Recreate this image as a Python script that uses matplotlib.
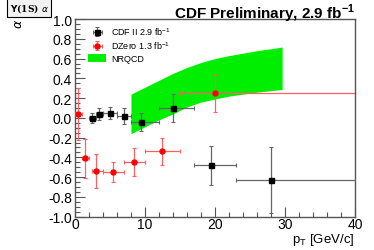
import numpy as np
import matplotlib
matplotlib.use("Agg")
import matplotlib.pyplot as plt
from matplotlib.ticker import MultipleLocator, FormatStrFormatter

plt.rcParams['font.family'] = ['Liberation Sans', 'DejaVu Sans']

# CDF II points
cdf_pt = [2.5, 3.5, 5.0, 7.0, 9.5, 14.0, 19.5, 28.0]
cdf_lo = [2.0, 3.0, 4.0, 6.0, 8.0, 12.0, 17.0, 23.0]
cdf_hi = [3.0, 4.0, 6.0, 8.0, 12.0, 17.0, 23.0, 40.0]
cdf_alpha = [0.00, 0.04, 0.05, 0.02, -0.04, 0.10, -0.48, -0.63]
cdf_err = [0.05, 0.06, 0.06, 0.08, 0.09, 0.145, 0.20, 0.33]

# DZero points
d0_pt = [0.5, 1.45, 2.95, 5.5, 8.5, 12.5, 20.0]
d0_lo = [0.0, 1.0, 2.5, 4.0, 7.0, 10.0, 15.0]
d0_hi = [1.0, 2.0, 4.0, 7.0, 10.0, 15.0, 60.0]
d0_alpha = [0.04, -0.41, -0.54, -0.55, -0.45, -0.34, 0.25]
d0_err = [0.26, 0.20, 0.17, 0.10, 0.14, 0.14, 0.19]

# NRQCD band
nrqcd_pt = [8, 10, 12, 14, 16, 18, 20, 22, 24, 26, 28, 29.6]
nrqcd_hi = [0.24, 0.31, 0.38, 0.45, 0.51, 0.56, 0.60, 0.63, 0.655, 0.68, 0.70, 0.717]
nrqcd_lo = [-0.16, -0.09, -0.02, 0.04, 0.11, 0.16, 0.19, 0.22, 0.24, 0.26, 0.275, 0.287]

fig = plt.figure(figsize=(3.74, 2.51), dpi=100)
ax = fig.add_axes([0.2005, 0.133, 0.7485, 0.787])

ax.fill_between(nrqcd_pt, nrqcd_lo, nrqcd_hi, color='#00ee00', lw=0, label='NRQCD', zorder=1)

cdf_pt = np.array(cdf_pt)
d0_pt = np.array(d0_pt)
ax.errorbar(cdf_pt, cdf_alpha, yerr=cdf_err,
            xerr=[cdf_pt - np.array(cdf_lo), np.array(cdf_hi) - cdf_pt],
            fmt='s', color='black', ms=3.6, ecolor='#666666', elinewidth=0.9,
            capsize=1.2, capthick=0.8, label=r'CDF II 2.9 fb$^{\mathregular{-1}}$', zorder=3)
ax.errorbar(d0_pt, d0_alpha, yerr=d0_err,
            xerr=[d0_pt - np.array(d0_lo), np.array(d0_hi) - d0_pt],
            fmt='o', color='#ff0000', ms=3.6, ecolor='#ff6060', elinewidth=0.9,
            capsize=1.2, capthick=0.8, label=r'DZero 1.3 fb$^{\mathregular{-1}}$', zorder=3)

ax.set_xlim(0, 40)
ax.set_ylim(-1.0, 1.0)
ax.xaxis.set_major_locator(MultipleLocator(10))
ax.xaxis.set_minor_locator(MultipleLocator(2))
ax.yaxis.set_major_locator(MultipleLocator(0.2))
ax.yaxis.set_minor_locator(MultipleLocator(0.05))
ax.yaxis.set_major_formatter(FormatStrFormatter('%.1f'))
ax.tick_params(which='both', direction='in', top=False, right=False,
               labelsize=10, color='#555555', pad=2)
ax.tick_params(which='major', length=7, width=0.8)
ax.tick_params(which='minor', length=3.5, width=0.8)
ax.tick_params(axis='x', which='major', pad=0)
for s in ax.spines.values():
    s.set_color('#555555')
    s.set_linewidth(1.0)

handles, labels = ax.get_legend_handles_labels()
order = [1, 2, 0]
leg = ax.legend([handles[i] for i in order], [labels[i] for i in order],
                loc='upper left', bbox_to_anchor=(0.035, 0.985), frameon=False,
                fontsize=6.5, handlelength=2.0, handleheight=1.1, handletextpad=0.5,
                labelspacing=0.25, borderaxespad=0)

fig.text(0.949, 0.926, r'CDF Preliminary, 2.9 fb$^{\mathregular{-1}}$', ha='right',
         va='baseline', fontsize=11, fontweight='bold')
fig.text(0.949, 0.032, r'p$_{\mathregular{T}}$ [GeV/c]', ha='right', va='baseline', fontsize=9.5)
fig.text(0.05, 0.905, r'$\alpha$', rotation=90, ha='center', va='center', fontsize=9)
fig.text(0.078, 0.966, r'$\mathbf{\Upsilon}$(1S) $\alpha$', ha='center', va='center',
         fontsize=6.5, fontweight='bold', family='DejaVu Serif',
         bbox=dict(boxstyle='square,pad=0.3', fc='#f2f2f2', ec='black', lw=0.8))

fig.savefig('out.png', dpi=100)
